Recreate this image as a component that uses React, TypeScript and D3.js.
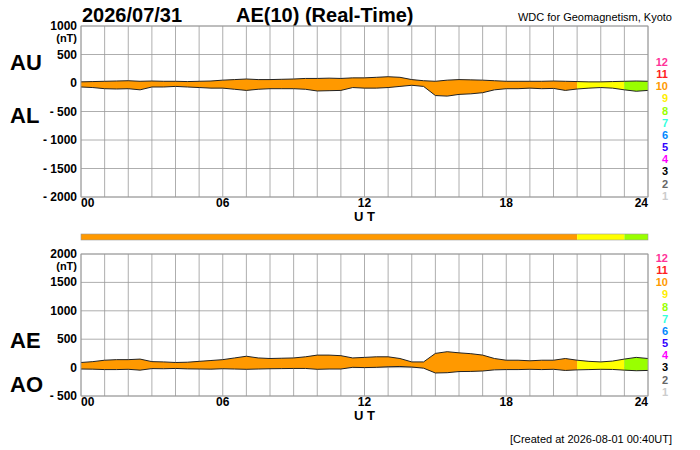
import * as d3 from "d3";

// half-hourly values, 00:00 .. 24:00 UT
const hours = d3.range(0, 24.01, 0.5);
const AU = [20, 25, 30, 35, 40, 30, 35, 30, 30, 25, 30, 35, 50, 60, 70, 60, 60, 65, 70, 80, 80, 85, 80, 90, 90, 100, 110, 100, 60, 40, 30, 50, 60, 55, 50, 40, 30, 30, 30, 30, 35, 30, 25, 20, 20, 25, 30, 35, 30];
const AL = [-70, -80, -100, -105, -100, -120, -70, -70, -60, -70, -80, -90, -90, -110, -130, -110, -100, -100, -100, -110, -140, -135, -130, -80, -90, -90, -80, -60, -40, -60, -220, -230, -200, -190, -170, -120, -100, -100, -90, -100, -95, -130, -105, -90, -80, -90, -120, -145, -130];
const AE = AU.map((u, i) => u - AL[i]);
const AO = AU.map((u, i) => (u + AL[i]) / 2);

// activity colour segments by hour
const segStart = [0, 21, 23];
const segEnd = [21, 23, 24];
const segColor = ["#ff9900", "#ffff00", "#99ff00"];

const legendNums = ["12", "11", "10", "9", "8", "7", "6", "5", "4", "3", "2", "1"];
const legendColors = ["#ff3399", "#ff2020", "#ff9900", "#ffee00", "#99ff00", "#33ffdd", "#0088ff", "#3300ff", "#ff00ff", "#000000", "#666666", "#cccccc"];

const topTicks = [1000, 500, 0, -500, -1000, -1500, -2000];
const botTicks = [2000, 1500, 1000, 500, 0, -500];
const xTicks = [0, 6, 12, 18, 24];

const FONT = "Liberation Sans, Arial, sans-serif";
const X0 = 81, X1 = 648;

function Panel({ top, bottom, domain, ticks, upper, lower, upLabel, loLabel, upY, loY, legTop }: any) {
  const x = d3.scaleLinear().domain([0, 24]).range([X0, X1]);
  const y = d3.scaleLinear().domain(domain).range([bottom, top]);
  const area = d3.area<number>().x((i) => x(hours[i])).y0((i) => y(lower[i])).y1((i) => y(upper[i]));
  const line = (arr: number[]) => d3.line<number>().x((i) => x(hours[i])).y((i) => y(arr[i]));
  const idx = d3.range(hours.length);
  return (
    <g>
      {d3.range(0, 25).map((h) => (
        <line key={h} x1={x(h)} x2={x(h)} y1={top} y2={bottom} stroke="#999" strokeWidth={0.8} />
      ))}
      {ticks.map((t: number) => (
        <line key={t} x1={X0} x2={X1} y1={y(t)} y2={y(t)} stroke="#999" strokeWidth={0.8} />
      ))}
      {segStart.map((s, k) => (
        <path key={k} d={area(idx.filter((i) => hours[i] >= s && hours[i] <= segEnd[k])) || ""} fill={segColor[k]} />
      ))}
      <path d={line(upper)(idx) || ""} fill="none" stroke="#222" strokeWidth={1} />
      <path d={line(lower)(idx) || ""} fill="none" stroke="#222" strokeWidth={1} />
      <rect x={X0} y={top} width={X1 - X0} height={bottom - top} fill="none" stroke="#999" strokeWidth={0.8} />
      {ticks.map((t: number) => (
        <text key={t} x={77} y={y(t) + 4} textAnchor="end" fontSize={12} fontWeight="bold">
          {t < 0 ? "- " + -t : t}
        </text>
      ))}
      <text x={77} y={y(ticks[0]) + 16} textAnchor="end" fontSize={11} fontWeight="bold">(nT)</text>
      {xTicks.map((h) => (
        <text key={h} x={x(h)} y={bottom + 10} textAnchor={h === 0 ? "start" : h === 24 ? "end" : "middle"} fontSize={12} fontWeight="bold">
          {String(h).padStart(2, "0")}
        </text>
      ))}
      <text x={(X0 + X1) / 2} y={bottom + 24} textAnchor="middle" fontSize={13} fontWeight="bold">U T</text>
      <text x={10} y={upY} fontSize={22} fontWeight="bold">{upLabel}</text>
      <text x={10} y={loY} fontSize={22} fontWeight="bold">{loLabel}</text>
      {legendNums.map((n, k) => (
        <text key={n} x={668} y={legTop + 4 + k * 12.15} textAnchor="end" fontSize={11} fontWeight="bold" fill={legendColors[k]}>
          {n}
        </text>
      ))}
    </g>
  );
}

export default function App() {
  const xb = d3.scaleLinear().domain([0, 24]).range([X0, X1]);
  return (
    <svg width={700} height={450} style={{ position: "absolute", left: 0, top: 0, background: "#fff" }} fontFamily={FONT}>
      <text x={82} y={22} fontSize={20} fontWeight="bold">2026/07/31</text>
      <text x={236} y={22} fontSize={20} fontWeight="bold">AE(10) (Real-Time)</text>
      <text x={672} y={21} textAnchor="end" fontSize={11}>WDC for Geomagnetism, Kyoto</text>
      <Panel top={26} bottom={197} domain={[-2000, 1000]} ticks={topTicks} upper={AU} lower={AL}
        upLabel="AU" loLabel="AL" upY={70} loY={123} legTop={62} />
      {segStart.map((s, k) => (
        <rect key={k} x={xb(s)} y={234} width={xb(segEnd[k]) - xb(s)} height={6} fill={segColor[k]} />
      ))}
      <rect x={X0} y={234} width={X1 - X0} height={6} fill="none" stroke="#999" strokeWidth={0.6} />
      <Panel top={254} bottom={396} domain={[-500, 2000]} ticks={botTicks} upper={AE} lower={AO}
        upLabel="AE" loLabel="AO" upY={348} loY={392} legTop={258} />
      <text x={672} y={443} textAnchor="end" fontSize={11}>[Created at 2026-08-01 00:40UT]</text>
    </svg>
  );
}
